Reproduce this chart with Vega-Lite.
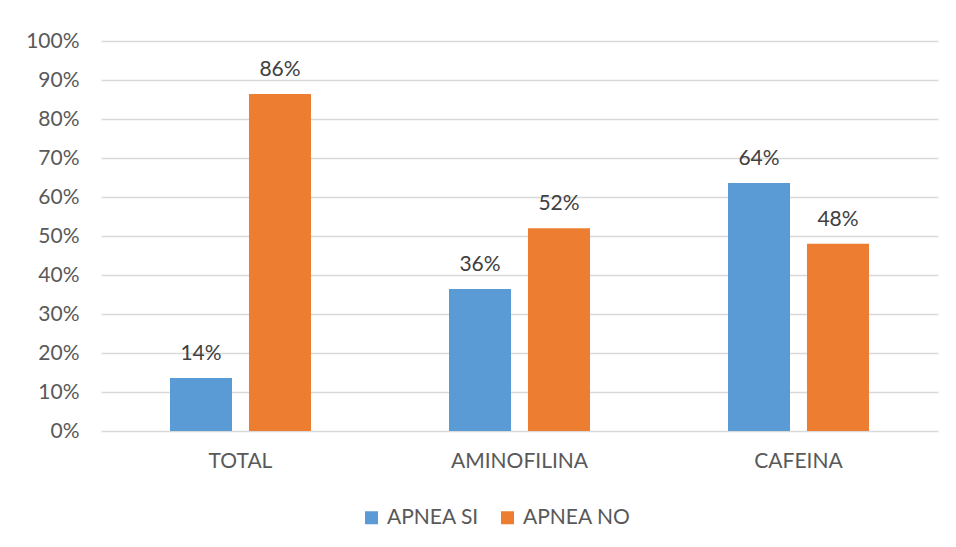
{
  "$schema": "https://vega.github.io/schema/vega-lite/v6.json",
  "autosize": {"type": "none"},
  "width": 837,
  "height": 390,
  "padding": {"left": 101, "top": 41, "right": 18, "bottom": 116},
  "background": "white",
  "config": {
    "font": "Lato",
    "view": {"stroke": null},
    "axis": {"labelFont": "Lato", "labelFontSize": 21, "labelColor": "#595959", "titleFont": "Lato"},
    "legend": {"labelFont": "Lato", "labelFontSize": 21, "labelColor": "#595959"}
  },
  "data": {
    "values": [
      {"grupo": "TOTAL", "serie": "APNEA SI", "v": 0.136},
      {"grupo": "TOTAL", "serie": "APNEA NO", "v": 0.864},
      {"grupo": "AMINOFILINA", "serie": "APNEA SI", "v": 0.364},
      {"grupo": "AMINOFILINA", "serie": "APNEA NO", "v": 0.52},
      {"grupo": "CAFEINA", "serie": "APNEA SI", "v": 0.636},
      {"grupo": "CAFEINA", "serie": "APNEA NO", "v": 0.48}
    ]
  },
  "encoding": {
    "x": {
      "field": "grupo",
      "type": "nominal",
      "sort": ["TOTAL", "AMINOFILINA", "CAFEINA"],
      "scale": {"paddingInner": 0.4946, "paddingOuter": 0.2473},
      "axis": {"title": null, "labelAngle": 0, "ticks": false, "domain": false, "labelPadding": 19}
    },
    "xOffset": {
      "field": "serie",
      "type": "nominal",
      "sort": ["APNEA SI", "APNEA NO"],
      "scale": {"paddingInner": 0.215, "paddingOuter": 0}
    },
    "y": {
      "field": "v",
      "type": "quantitative",
      "scale": {"domain": [0, 1], "nice": false},
      "axis": {
        "title": null,
        "format": ".0%",
        "values": [0, 0.1, 0.2, 0.3, 0.4, 0.5, 0.6, 0.7, 0.8, 0.9, 1],
        "ticks": false,
        "domain": false,
        "labelPadding": 22,
        "gridColor": "#d9d9d9",
        "gridWidth": 1.3
      }
    }
  },
  "layer": [
    {
      "mark": {"type": "bar"},
      "encoding": {
        "color": {
          "field": "serie",
          "type": "nominal",
          "sort": ["APNEA SI", "APNEA NO"],
          "scale": {"domain": ["APNEA SI", "APNEA NO"], "range": ["#5B9BD5", "#ED7D31"]},
          "legend": {
            "title": null,
            "orient": "none",
            "direction": "horizontal",
            "legendX": 260,
            "legendY": 466,
            "symbolType": "square",
            "symbolSize": 169,
            "symbolStrokeWidth": 0,
            "labelOffset": 5,
            "columnPadding": 18
          }
        }
      }
    },
    {
      "mark": {"type": "text", "baseline": "alphabetic", "dy": -18, "fontSize": 21, "color": "#404040", "font": "Lato"},
      "encoding": {
        "text": {"field": "v", "type": "quantitative", "format": ".0%"}
      }
    }
  ]
}
